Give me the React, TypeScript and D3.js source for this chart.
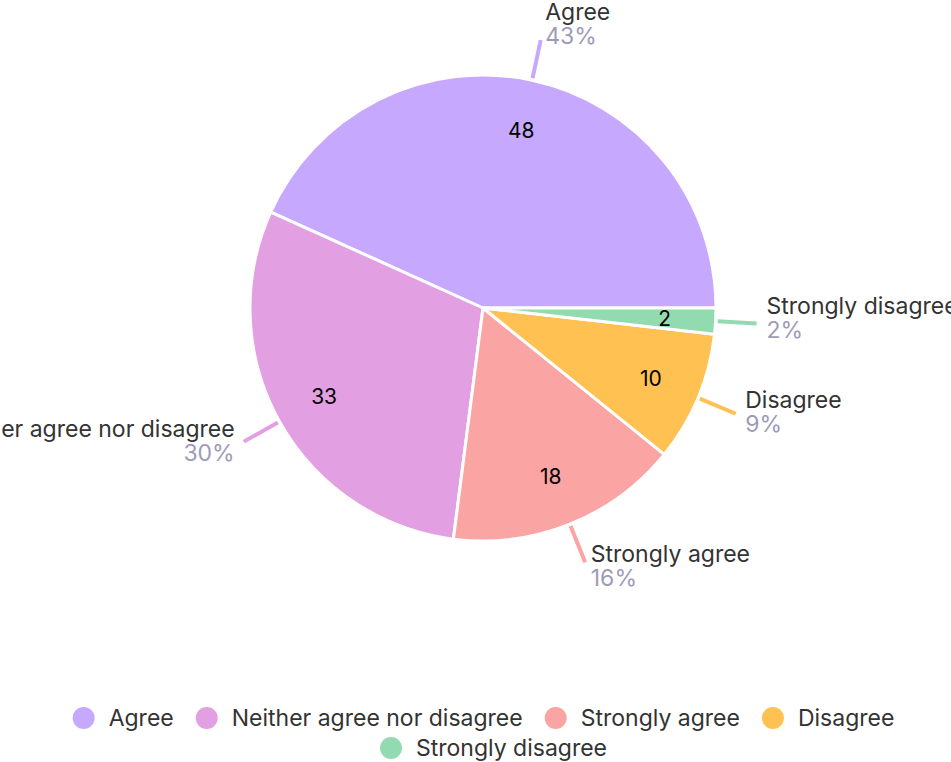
import React from 'react';
import * as d3 from 'd3';

const categories = ['Agree', 'Neither agree nor disagree', 'Strongly agree', 'Disagree', 'Strongly disagree'];
const values = [48, 33, 18, 10, 2];
const percentLabels = ['43%', '30%', '16%', '9%', '2%'];
const colors = ['#c6a9ff', '#e2a0e3', '#fba4a4', '#ffc152', '#92dbb0'];

const W = 951;
const H = 762;
const CX = 483;
const CY = 308;
const R = 233;
const FONT = 'Inter, Lato, sans-serif';

type Datum = { name: string; value: number; pct: string; color: string };
const data: Datum[] = categories.map((c, i) => ({ name: c, value: values[i], pct: percentLabels[i], color: colors[i] }));

let ctx: CanvasRenderingContext2D | null = null;
function measure(s: string, fs: number) {
  if (!ctx) ctx = document.createElement('canvas').getContext('2d');
  if (!ctx) return s.length * fs * 0.55;
  ctx.font = `${fs}px Inter`;
  return ctx.measureText(s).width;
}

export default function App() {
  const pie = d3
    .pie<Datum>()
    .sort(null)
    .value((d) => d.value)
    .startAngle(Math.PI / 2)
    .endAngle(Math.PI / 2 - 2 * Math.PI);
  const arcs = pie(data);
  const arcGen = d3.arc<d3.PieArcDatum<Datum>>().innerRadius(0).outerRadius(R);
  const pt = (a: number, r: number): [number, number] => [Math.sin(a) * r, -Math.cos(a) * r];

  const legendRows = [
    [0, 1, 2, 3],
    [4],
  ];
  const rowShift = [8, 18];
  const fs = 23;

  return (
    <svg width={W} height={H} style={{ position: 'absolute', left: 0, top: 0 }} fontFamily={FONT}>
      <rect width={W} height={H} fill="#ffffff" />
      <g transform={`translate(${CX},${CY})`}>
        {arcs.map((a, i) => (
          <path key={i} d={arcGen(a) || ''} fill={a.data.color} stroke="#ffffff" strokeWidth={3} strokeLinejoin="round" />
        ))}
        {arcs.map((a, i) => {
          const mid = (a.startAngle + a.endAngle) / 2;
          const [lx, ly] = pt(mid, 182);
          return (
            <text key={'v' + i} x={lx} y={ly} textAnchor="middle" dominantBaseline="central" fontSize={21} fill="#000">
              {a.data.value}
            </text>
          );
        })}
        {arcs.map((a, i) => {
          const mid = (a.startAngle + a.endAngle) / 2;
          const [x1, y1] = pt(mid, R + 2);
          const [x2, y2] = pt(mid, R + 41);
          const s = Math.sin(mid);
          const c = Math.cos(mid);
          const right = s >= 0;
          const tx = x2 + (right ? 1 : -1) * (3 + 7 * Math.abs(s));
          const nameY = y2 - 10 - 10 * c;
          return (
            <g key={'l' + i}>
              <line x1={x1} y1={y1} x2={x2} y2={y2} stroke={a.data.color} strokeWidth={4} />
              <text x={tx} y={nameY} textAnchor={right ? 'start' : 'end'} fontSize={fs} fill="#333333">
                {a.data.name}
              </text>
              <text x={tx} y={nameY + 24} textAnchor={right ? 'start' : 'end'} fontSize={fs} fill="#9d9cb8">
                {a.data.pct}
              </text>
            </g>
          );
        })}
      </g>
      <g>
        {legendRows.map((row, ri) => {
          const itemW = row.map((idx) => 36 + measure(data[idx].name, fs) + 22);
          const total = itemW.reduce((p, v) => p + v, 0) - 22;
          let x = W / 2 - total / 2 + rowShift[ri];
          const y = 718 + ri * 30;
          return row.map((idx, k) => {
            const x0 = x;
            x += itemW[k];
            return (
              <g key={'lg' + idx}>
                <circle cx={x0 + 11} cy={y} r={11} fill={data[idx].color} />
                <text x={x0 + 36} y={y} dominantBaseline="central" fontSize={fs} fill="#333333">
                  {data[idx].name}
                </text>
              </g>
            );
          });
        })}
      </g>
    </svg>
  );
}
